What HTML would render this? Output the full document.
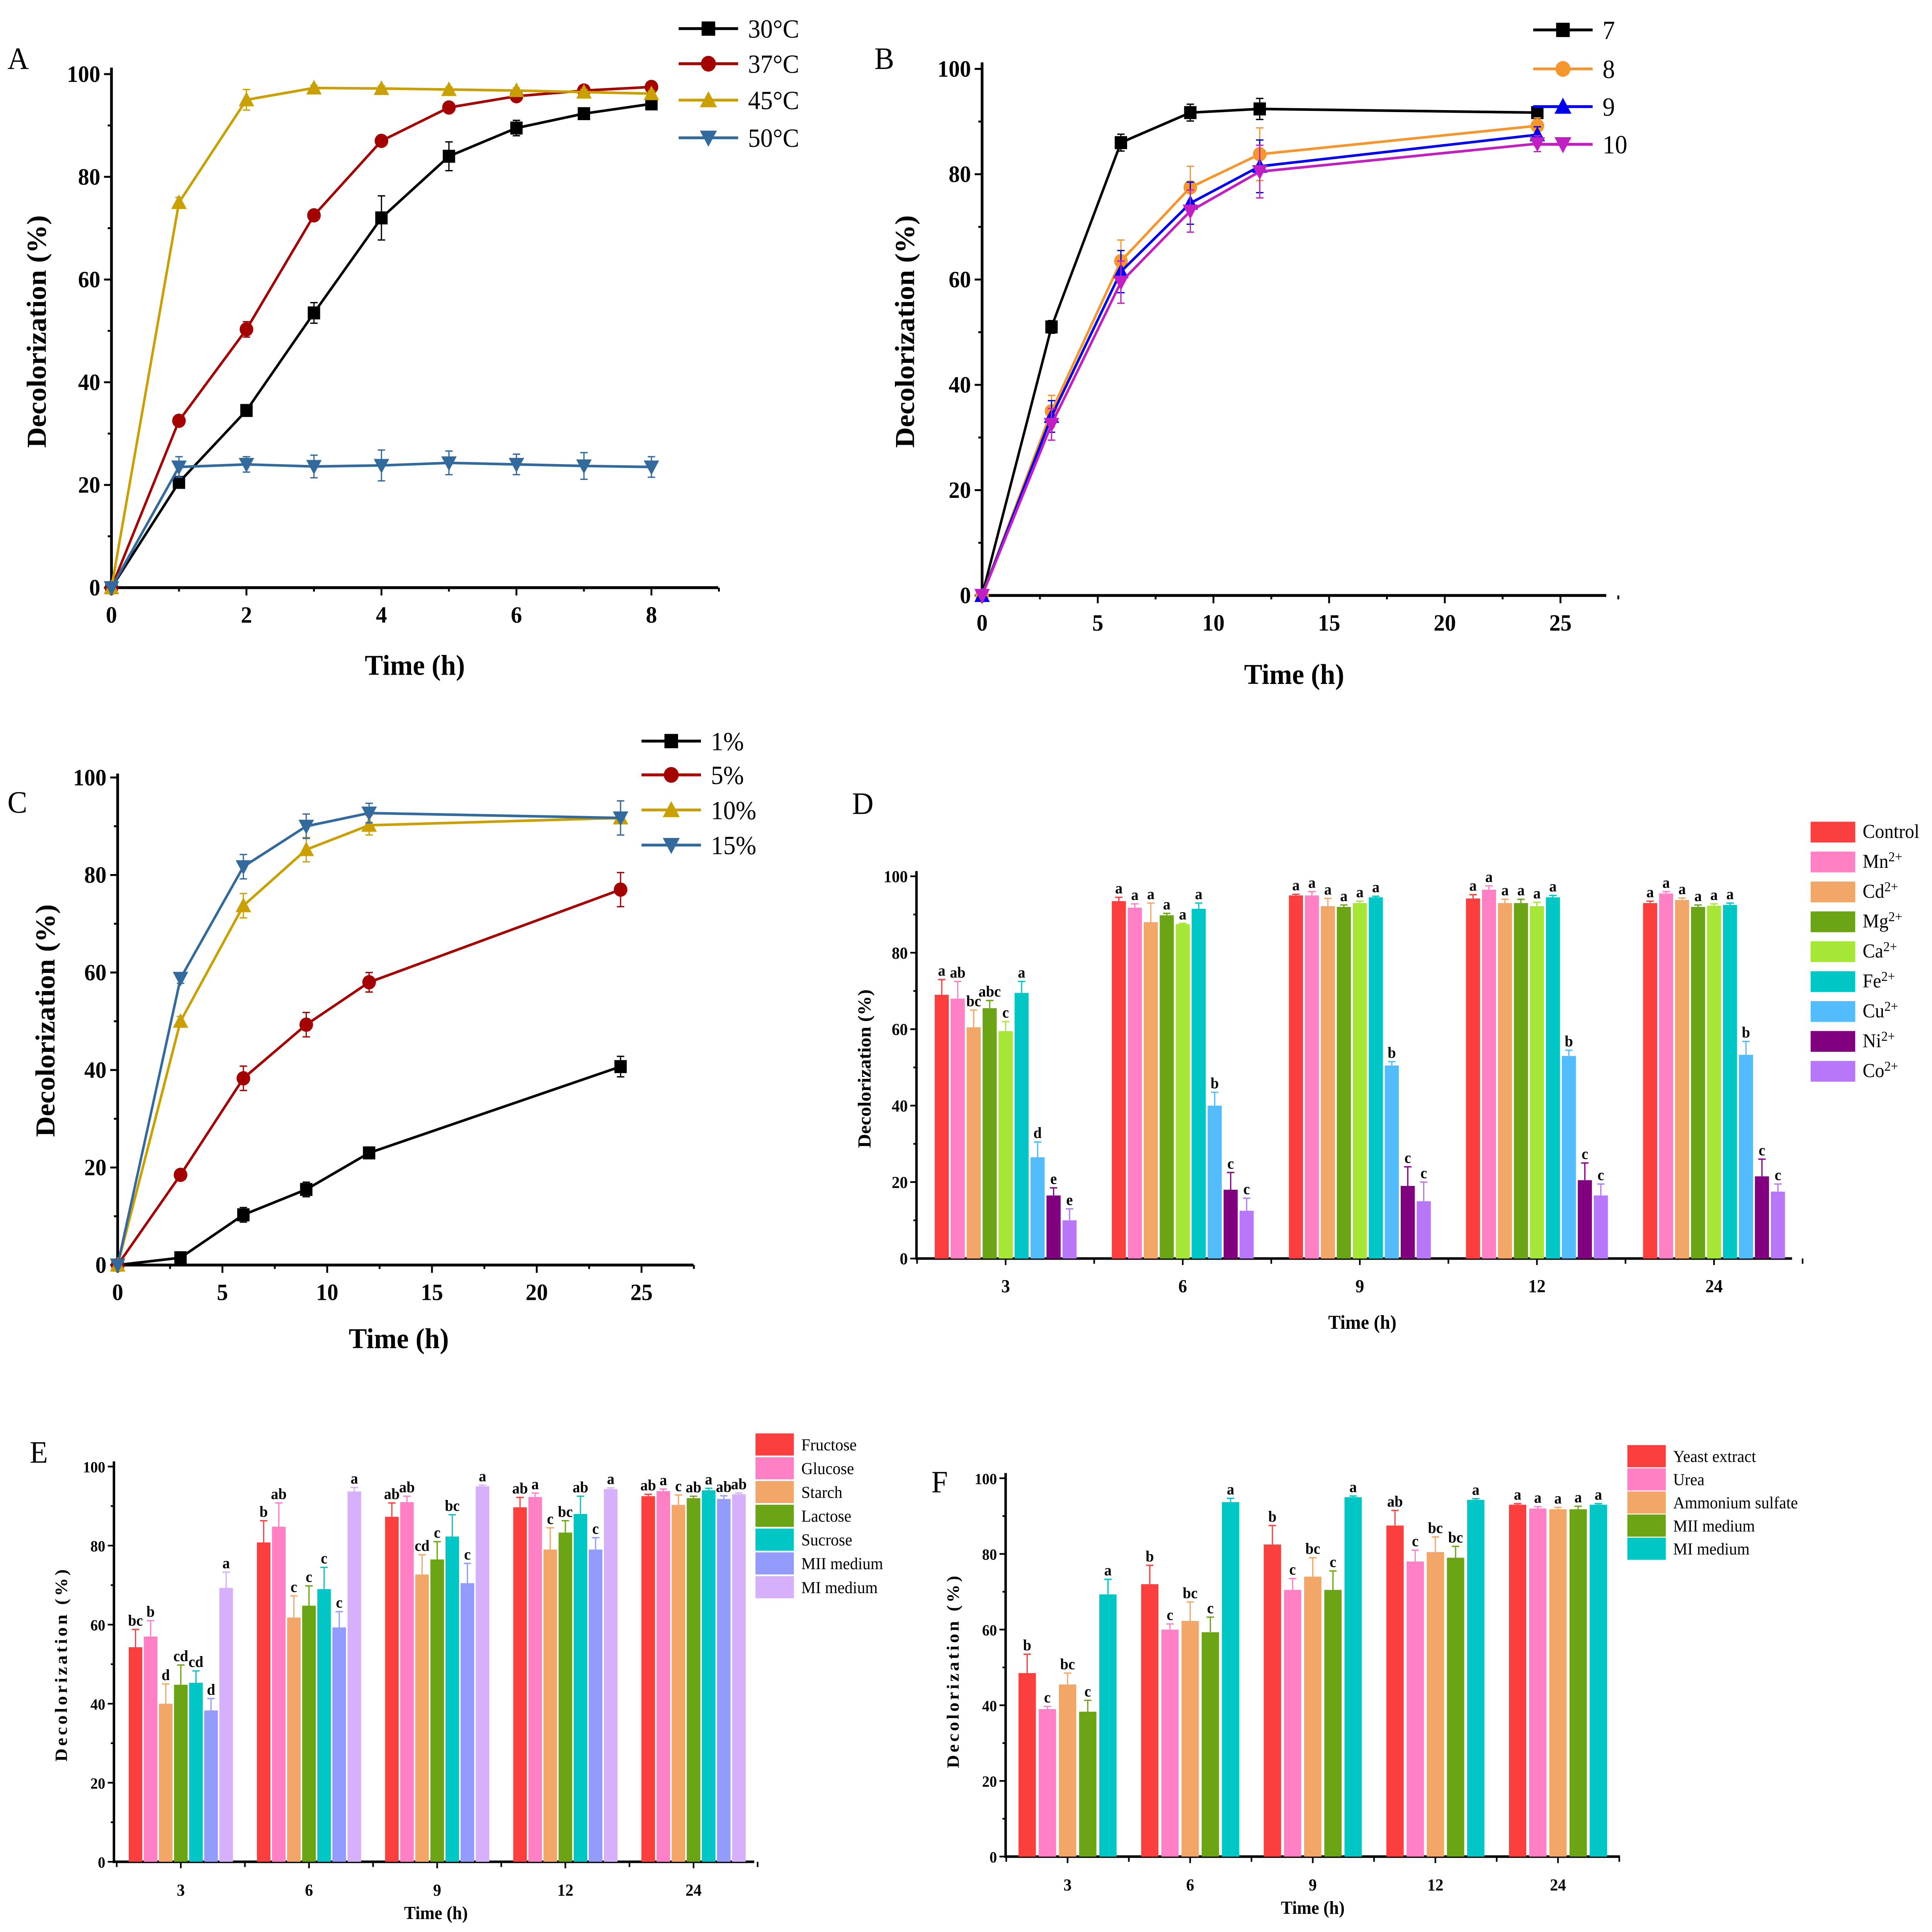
<!DOCTYPE html>
<html><head><meta charset="utf-8"><meta name="viewport" content="width=6658"><style>
html,body{margin:0;padding:0;background:#fff;overflow:hidden;width:100vw;height:100vh}
svg{display:block;width:100vw;height:100vh}
text{font-family:"Liberation Serif",serif}
</style></head><body>
<svg id="root" viewBox="0 0 1560 1486" preserveAspectRatio="none" xmlns="http://www.w3.org/2000/svg"></svg>
<script>
// ---------- Panel A data ----------
const aTimes = [0,1,2,3,4,5,6,7,8];
const a30 = [0,20.5,34.5,53.5,72,84,89.5,92.3,94.2];
const a37 = [0,32.5,50.3,72.5,87,93.5,95.7,96.8,97.5];
const a45 = [0,75,95,97.3,97.2,97,96.8,96.5,96.2];
const a50 = [0,23.5,24,23.6,23.8,24.3,24,23.7,23.5];
const aErr30 = [0,1,1,2,4.3,2.8,1.5,1,1];
const aErr37 = [0,1,1.5,1,1,1,1,1,1];
const aErr45 = [0,1,2,0.5,0.5,0.5,0.5,0.5,0.5];
const aErr50 = [0,2,1.5,2.2,3,2.3,2,2.6,2];
const aLabels = ["30°C","37°C","45°C","50°C"];
// ---------- Panel B data ----------
const bTimes = [0,3,6,9,12,24];
const b7 = [0,51,86,91.7,92.4,91.7];
const b8 = [0,35,63.5,77.5,83.8,89.2];
const b9 = [0,34,61.5,74.5,81.5,87.5];
const b10 = [0,32.5,59.5,73,80.5,85.8];
const bErr = [0,3,4,4,5,1.5];
const bLabels = ["7","8","9","10"];
// ---------- Panel C data ----------
const cTimes = [0,3,6,9,12,24];
const c1 = [0,1.5,10.3,15.5,23,40.7];
const c5 = [0,18.5,38.3,49.3,58,77];
const c10 = [0,50,73.7,85.2,90.2,91.7];
const c15 = [0,58.8,81.7,90,92.7,91.7];
const cErr = [0,1,2.5,2.5,2,3.5];
const cLabels = ["1%","5%","10%","15%"];
// ---------- Panel D data ----------
const dGroups = ["3","6","9","12","24"];
const dControl = [69,93.5,95,94.2,93];
const dMn = [68,91.8,95,96.5,95.5];
const dCd = [60.5,88,92.2,93,93.8];
const dMg = [65.5,89.8,92,93,92];
const dCa = [59.5,87.5,93,92.2,92.3];
const dFe = [69.5,91.5,94.5,94.5,92.5];
const dCu = [26.5,40,50.5,53,53.3];
const dNi = [16.5,18,19,20.5,21.5];
const dCo = [10,12.5,15,16.5,17.5];
const dErr = [[4,1,0.3,1,0.5],[4.5,1,1,1,0.5],[4.5,5,2,1,0.5],[2,0.5,0.5,1,0.5],[2.5,0.2,0.5,1,0.5],[3,1.5,0.3,0.5,0.5],[4,3.5,1,1.5,3.5],[2,4.5,5,4.5,4.5],[3,3.3,5,3,2]];
const dLetters = [["a","a","a","a","a"],["ab","a","a","a","a"],["bc","a","a","a","a"],["abc","a","a","a","a"],["c","a","a","a","a"],["a","a","a","a","a"],["d","b","b","b","b"],["e","c","c","c","c"],["e","c","c","c","c"]];
// ---------- Panel E data ----------
const eGroups = ["3","6","9","12","24"];
const eNames = ["Fructose","Glucose","Starch","Lactose","Sucrose","MII medium","MI medium"];
const eFructose = [54.3,80.8,87.3,89.7,92.5];
const eGlucose = [57,84.8,91,92.3,93.8];
const eStarch = [40,61.8,72.7,79,90.3];
const eLactose = [44.8,64.8,76.5,83.3,92];
const eSucrose = [45.3,69,82.3,88,94];
const eMII = [38.3,59.3,70.5,79,91.8];
const eMI = [69.3,93.7,95,94.3,93];
const eErr = [[4.5,5.5,3.5,2.5,0.5],[4,6,1.5,1,0.5],[5,5.5,5,5.5,2.5],[5,5,4.5,3,0.5],[3,5.5,5.5,4.5,0.5],[3,4,5,3,0.8],[4,1,0.3,0.3,0.3]];
const eLetters = [["bc","b","ab","ab","ab"],["b","ab","ab","a","a"],["d","c","cd","c","c"],["cd","c","c","bc","ab"],["cd","c","bc","ab","a"],["d","c","c","c","ab"],["a","a","a","a","ab"]];
// ---------- Panel F data ----------
const fGroups = ["3","6","9","12","24"];
const fNames = ["Yeast extract","Urea","Ammonium sulfate","MII medium","MI medium"];
const fYeast = [48.5,72,82.5,87.5,93];
const fUrea = [39,60,70.5,78,92];
const fAmm = [45.5,62.3,74,80.5,91.8];
const fMII = [38.3,59.3,70.5,79,91.8];
const fMI = [69.3,93.7,95,94.3,93];
const fErr = [[5,5,5,4,0.3],[0.7,1.5,3,3,0.5],[3,5,5,4,0.5],[3,4,5,3,0.8],[4,1,0.3,0.3,0.3]];
const fLetters = [["b","b","b","ab","a"],["c","c","c","c","a"],["bc","bc","bc","bc","a"],["c","c","c","bc","a"],["a","a","a","a","a"]];

const NS="http://www.w3.org/2000/svg";
const root=document.getElementById('root');
function mk(tag,attrs,parent,txt){const e=document.createElementNS(NS,tag);for(const k in attrs)e.setAttribute(k,attrs[k]);if(txt!==undefined)e.textContent=txt;(parent||root).appendChild(e);return e;}

function marker(g,shape,x,y,c,s){
  let e;
  if(shape==='sq') e=mk('rect',{x:x-s,y:y-s,width:2*s,height:2*s,fill:c},g);
  else if(shape==='ci') e=mk('circle',{cx:x,cy:y,r:s*1.1,fill:c},g);
  else if(shape==='up') e=mk('polygon',{points:`${x},${y-s*1.25} ${x-s*1.25},${y+s} ${x+s*1.25},${y+s}`,fill:c},g);
  else e=mk('polygon',{points:`${x},${y+s*1.25} ${x-s*1.25},${y-s} ${x+s*1.25},${y-s}`,fill:c},g);
  
  
}

function lineChart(cfg){
  const g=mk('g',{},root);
  
  
  const sx=v=>cfg.x0+(v-cfg.xmin)*(cfg.x1-cfg.x0)/(cfg.xmax-cfg.xmin);
  const sy=v=>cfg.y0-v*(cfg.y0-cfg.y100)/100;
  const ax=mk('path',{d:`M${cfg.x0},${cfg.ytop} V${cfg.y0} H${cfg.xend}`,stroke:'#000','stroke-width':2.2,fill:'none'},g);
   
  for(let v=0;v<=100;v+=10){const y=sy(v);mk('line',{x1:cfg.x0,x2:cfg.x0-(v%20?3:6),y1:y,y2:y,stroke:'#000','stroke-width':1.5},g);
    if(v%20===0){const t=mk('text',{x:cfg.x0-9,y:y+6,'text-anchor':'end','font-size':18,'font-weight':'bold'},g,String(v));}}
  for(let v=cfg.xmin;v<=cfg.xtickmax+1e-6;v+=cfg.xminor){const x=sx(v);const maj=Math.abs(v/cfg.xmajor-Math.round(v/cfg.xmajor))<1e-6;
    mk('line',{x1:x,x2:x,y1:cfg.y0,y2:cfg.y0+(maj?6:3),stroke:'#000','stroke-width':1.5},g);
    if(maj&&v<=cfg.xlabmax){const t=mk('text',{x:x,y:cfg.y0+27,'text-anchor':'middle','font-size':18,'font-weight':'bold'},g,String(v));}}
  cfg.series.forEach((s,i)=>{
    const pts=cfg.xs.map((t,j)=>`${sx(t)},${sy(s.v[j])}`).join(' ');
    const l=mk('polyline',{points:pts,fill:'none',stroke:s.c,'stroke-width':2},g);
    
    
    cfg.xs.forEach((t,j)=>{const x=sx(t),e=s.e[j];if(e>0){mk('path',{d:`M${x},${sy(s.v[j]-e)}V${sy(s.v[j]+e)}M${x-3},${sy(s.v[j]-e)}h6M${x-3},${sy(s.v[j]+e)}h6`,stroke:s.c,'stroke-width':1,fill:'none'},g);}});
    cfg.xs.forEach((t,j)=>marker(g,s.m,sx(t),sy(s.v[j]),s.c,5));
    const ly=cfg.legY[i];
    const lg=mk('g',{},g);
    mk('line',{x1:cfg.legX,x2:cfg.legX+48,y1:ly,y2:ly,stroke:s.c,'stroke-width':2.2},lg);
    marker(lg,s.m,cfg.legX+24,ly,s.c,5.5);
    mk('text',{x:cfg.legX+56,y:ly+7,'font-size':20},lg,cfg.labels[i]);
  });
  const tx=mk('text',{x:cfg.xtitle[0],y:cfg.xtitle[1],'text-anchor':'middle','font-size':22,'font-weight':'bold'},g,'Time (h)');
  
  const ty=mk('text',{x:0,y:0,transform:`translate(${cfg.ytitle[0]},${cfg.ytitle[1]}) rotate(-90)`,'text-anchor':'middle','font-size':22,'font-weight':'bold'},g,'Decolorization (%)');
  
  const pl=mk('text',{x:cfg.plabel[0],y:cfg.plabel[1],'font-size':24},g,cfg.letter);
  
}

lineChart({name:'panel-a',letter:'A',plabel:[6,53],x0:90,x1:526,xmin:0,xmax:8,xend:580,xtickmax:9,xlabmax:8,xmajor:2,xminor:1,y0:452,y100:57,ytop:52,
  xs:aTimes,labels:aLabels,legX:548,legY:[22,49,77,106],xtitle:[335,519],ytitle:[37,255],
  series:[{v:a30,e:aErr30,c:'#000000',m:'sq'},{v:a37,e:aErr37,c:'#a50000',m:'ci'},{v:a45,e:aErr45,c:'#c9a000',m:'up'},{v:a50,e:aErr50,c:'#336a9e',m:'dn'}]});
lineChart({name:'panel-b',letter:'B',plabel:[706,53],x0:793,x1:1260,xmin:0,xmax:25,xend:1297,xtickmax:27.5,xlabmax:25,xmajor:5,xminor:2.5,y0:458,y100:53,ytop:48,
  xs:bTimes,labels:bLabels,legX:1238,legY:[23,53,82,111],xtitle:[1045,526],ytitle:[738,255],
  series:[{v:b7,e:bErr.map(v=>v*0.4),c:'#000000',m:'sq'},{v:b8,e:bErr,c:'#f5962e',m:'ci'},{v:b9,e:bErr,c:'#0000f0',m:'up'},{v:b10,e:bErr,c:'#c21fc2',m:'dn'}]});
lineChart({name:'panel-c',letter:'C',plabel:[6,625],x0:95,x1:518,xmin:0,xmax:25,xend:560,xtickmax:27.5,xlabmax:25,xmajor:5,xminor:2.5,y0:973,y100:598,ytop:595,
  xs:cTimes,labels:cLabels,legX:518,legY:[570,596,623,650],xtitle:[322,1037],ytitle:[44,785],
  series:[{v:c1,e:cErr.map(v=>v*0.6),c:'#000000',m:'sq'},{v:c5,e:cErr,c:'#a50000',m:'ci'},{v:c10,e:cErr,c:'#c9a000',m:'up'},{v:c15,e:cErr,c:'#336a9e',m:'dn'}]});

function barChart(cfg){
  const g=mk('g',{},root);
  
  
  const sy=v=>cfg.y0-v*(cfg.y0-cfg.y100)/100;
  const ax=mk('path',{d:`M${cfg.x0},${cfg.ytop} V${cfg.y0} H${cfg.xend}`,stroke:'#000','stroke-width':2,fill:'none'},g);
  
  for(let v=0;v<=100;v+=10){const y=sy(v);mk('line',{x1:cfg.x0,x2:cfg.x0-(v%20?2.5:5),y1:y,y2:y,stroke:'#000','stroke-width':1.3},g);
    if(v%20===0){const t=mk('text',{x:cfg.x0-7,y:y+4.5,'text-anchor':'end','font-size':cfg.fs,'font-weight':'bold'},g,String(v));}}
  const nb=cfg.series.length;
  cfg.groups.forEach((gl,gi)=>{
    const cx=cfg.gx0+gi*cfg.gstep;
    mk('line',{x1:cx,x2:cx,y1:cfg.y0,y2:cfg.y0+5,stroke:'#000','stroke-width':1.3},g);
    mk('line',{x1:cx+cfg.gstep/2,x2:cx+cfg.gstep/2,y1:cfg.y0,y2:cfg.y0+4,stroke:'#000','stroke-width':1.3},g);
    if(gi===0) mk('line',{x1:cx-cfg.gstep/2,x2:cx-cfg.gstep/2,y1:cfg.y0,y2:cfg.y0+4,stroke:'#000','stroke-width':1.3},g);
    const t=mk('text',{x:cx,y:cfg.y0+26,'text-anchor':'middle','font-size':cfg.fs+1,'font-weight':'bold'},g,gl);
    
    cfg.series.forEach((s,si)=>{
      const x=cx-(nb*cfg.pitch)/2+si*cfg.pitch+(cfg.pitch-cfg.bw)/2;
      const v=s.v[gi],top=sy(v);
      const r=mk('rect',{x:x,y:top,width:cfg.bw,height:cfg.y0-top,fill:s.c},g);
      
      
      const et=sy(v+s.e[gi]),mx=x+cfg.bw/2;
      mk('path',{d:`M${mx},${top}V${et}M${mx-3},${et}h6`,stroke:s.c,'stroke-width':1,fill:'none'},g);
      mk('text',{x:mx,y:et-3,'text-anchor':'middle','font-size':cfg.lfs,'font-weight':'bold'},g,s.l[gi]);
    });
  });
  cfg.names.forEach((n,i)=>{
    const ly=cfg.legY+i*cfg.legStep;
    const lg=mk('g',{},g);
    mk('rect',{x:cfg.legX,y:ly-cfg.legBox/2,width:cfg.legBoxW,height:cfg.legBox,fill:cfg.series[i].c},lg);
    const t=mk('text',{x:cfg.legX+cfg.legBoxW+6,y:ly+4.5,'font-size':cfg.legFs},lg);
    if(cfg.sup){mk('tspan',{},t,n);if(i>0){mk('tspan',{dy:-5,'font-size':cfg.legFs*0.7},t,'2+');}}
    else t.textContent=n;
  });
  const tx=mk('text',{x:cfg.xtitle[0],y:cfg.xtitle[1],'text-anchor':'middle','font-size':cfg.fs+2,'font-weight':'bold'},g,'Time (h)');
  
  const ty=mk('text',{x:0,y:0,transform:`translate(${cfg.ytitle[0]},${cfg.ytitle[1]}) rotate(-90)`,'text-anchor':'middle','font-size':cfg.fs+2,'font-weight':'bold','letter-spacing':cfg.ls||0},g,'Decolorization (%)');
  
  const pl=mk('text',{x:cfg.plabel[0],y:cfg.plabel[1],'font-size':24},g,cfg.letter);
  
}

const dCols=['#fb3e3e','#ff80c5','#f2a667','#6ba515','#a5e636','#00c6c6','#52bcfc','#800080','#b877f9'];
const dVals=[dControl,dMn,dCd,dMg,dCa,dFe,dCu,dNi,dCo];
barChart({name:'panel-d',letter:'D',plabel:[688,626],x0:740,xend:1447,ytop:670,y0:968,y100:674,gx0:812,gstep:143,pitch:12.9,bw:11.4,fs:13,lfs:12,
  groups:dGroups,names:['Control','Mn','Cd','Mg','Ca','Fe','Cu','Ni','Co'],sup:true,
  series:dVals.map((v,i)=>({v:v,e:dErr[i],c:dCols[i],l:dLetters[i]})),
  legX:1462,legY:640,legStep:23,legBox:16,legBoxW:36,legFs:15,xtitle:[1100,1022],ytitle:[703,822]});

const eCols=['#fb3e3e','#ff80c5','#f2a667','#6ba515','#00c6c6','#939cfd','#d7b0fb'];
const eVals=[eFructose,eGlucose,eStarch,eLactose,eSucrose,eMII,eMI];
barChart({name:'panel-e',letter:'E',plabel:[24,1125],x0:92,xend:609,ytop:1124,y0:1432,y100:1128,gx0:146,gstep:103.5,pitch:12.2,bw:11,fs:12,lfs:12,
  groups:eGroups,names:eNames,sup:false,
  series:eVals.map((v,i)=>({v:v,e:eErr[i],c:eCols[i],l:eLetters[i]})),
  legX:610,legY:1111,legStep:18.3,legBox:17,legBoxW:31,legFs:13,xtitle:[352,1476],ytitle:[54,1280],ls:2});

const fCols=['#fb3e3e','#ff80c5','#f2a667','#6ba515','#00c6c6'];
const fVals=[fYeast,fUrea,fAmm,fMII,fMI];
barChart({name:'panel-f',letter:'F',plabel:[752,1148],x0:812,xend:1308,ytop:1133,y0:1428,y100:1137,gx0:862,gstep:99,pitch:16.3,bw:14,fs:12,lfs:12,
  groups:fGroups,names:fNames,sup:false,
  series:fVals.map((v,i)=>({v:v,e:fErr[i],c:fCols[i],l:fLetters[i]})),
  legX:1314,legY:1120,legStep:17.8,legBox:17,legBoxW:31,legFs:13,xtitle:[1060,1472],ytitle:[774,1285],ls:2});
</script>
</body></html>
